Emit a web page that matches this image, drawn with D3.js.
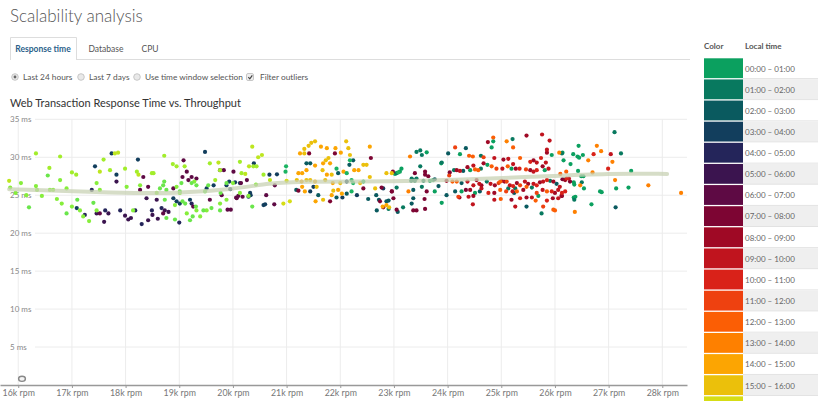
<!DOCTYPE html>
<html>
<head>
<meta charset="utf-8">
<script src="https://cdnjs.cloudflare.com/ajax/libs/d3/7.8.5/d3.min.js"></script>
<style>
  html, body { margin: 0; padding: 0; background: #fff; overflow: hidden; }
  svg { display: block; font-family: Lato, "Open Sans", "DejaVu Sans", sans-serif; }
</style>
</head>
<body>
<div id="chart"></div>
<script>
// ---- data ----
const hourLabels = d3.range(24).map(h =>
  `${String(h).padStart(2, "0")}:00 – ${String((h + 1) % 24 === 0 ? 24 : h + 1).padStart(2, "0")}:00`);
const hourColors = [
  "#0ba05f", "#08795f", "#0a5a5f", "#123e5d", "#24255a", "#3b144f",
  "#5e0a44", "#7d0533", "#9f0925", "#c0141e", "#d92219", "#ee4110",
  "#fb5e05", "#fe8000", "#fca502", "#ebc00b", "#d6dd15", "#bde61f",
  "#a2ed2b", "#86ee3b", "#6ae64b", "#4ed958", "#32c862", "#1bb462"
];
const xTicks = [16, 17, 18, 19, 20, 21, 22, 23, 24, 25, 26, 27, 28]; // k rpm
const yTicks = [5, 10, 15, 20, 25, 30, 35];                          // ms

const tabNames = ["Response time", "Database", "CPU"];
const radioOptions = ["Last 24 hours", "Last 7 days", "Use time window selection"];

// smoothed trend (k rpm, ms)
const trendRpm = [15.83, 17.9, 18.92, 20.0, 20.7, 21.25, 23.1, 24.05, 25.54, 27.08, 28.09];
const trendMs  = [25.8, 25.3, 25.2, 25.8, 26.6, 26.8, 26.8, 27.0, 27.4, 27.9, 27.8];

// points per local hour: [k rpm, ms]
const pts00 = [[24.85,32.1],[24.82,31.3],[23.61,30.65],[24.23,30.4],[25.94,30.3],[26.14,30.6],[26.34,30.4],[26.42,30.1],[26.45,29.95],[26.52,30.3],[26.44,31.5],[26.16,29.6],[26.29,29.1],[26.43,28.2],[27.42,28.2],[26.49,27.5],[26.53,27.5],[26.36,26.4],[26.35,26.7],[27.14,25.9],[27.37,26.0],[26.54,25.9],[26.84,25.5],[26.87,25.4],[26.38,24.8],[26.35,24.7],[26.68,23.8],[25.69,24.9],[24.51,25.3],[24.26,25.5],[23.76,25.5],[23.89,24.0],[23.67,26.9],[23.73,27.0],[23.88,29.2],[24.42,28.3],[24.74,29.0],[25.19,28.5],[25.81,28.3],[26.19,27.1],[23.14,28.5],[23.11,28.1],[23.02,27.8]];
const pts01 = [[27.11,33.3],[25.21,32.4],[23.42,30.7],[23.49,30.9],[23.52,30.3],[24.62,30.2],[27.23,30.5],[23.89,29.3],[23.49,28.8],[23.05,27.9],[24.62,28.5],[24.12,28.3],[23.42,27.2],[23.33,27.2],[23.36,27.0],[23.32,26.9],[23.39,26.9],[23.55,26.9],[24.73,26.8],[25.91,26.9],[26.5,26.7],[23.05,26.0],[23.52,26.1],[25.13,25.9],[25.26,25.9],[25.57,26.0],[26.36,24.4],[22.9,23.2],[23.17,23.4],[25.75,22.6],[26.13,30.5]];
const pts02 = [[24.34,31.2],[24.01,30.5],[24.29,28.2],[23.76,27.1],[24.26,26.6],[26.03,26.5],[23.36,25.7],[23.83,26.2],[23.98,25.0],[24.14,25.5],[24.6,25.5],[25.24,25.3],[27.13,23.4],[22.86,24.2],[23.07,22.8],[23.33,23.9],[23.36,24.6],[25.47,23.5],[21.37,29.2],[21.44,29.2],[21.96,27.9],[22.17,29.0],[22.24,29.6],[21.59,25.0],[21.93,24.7],[22.12,25.2],[22.52,24.5],[22.67,25.0],[22.72,24.4],[22.9,24.3],[22.68,23.0],[21.18,25.7]];
const pts03 = [[17.74,30.5],[17.43,28.8],[17.09,23.3],[17.83,27.7],[18.23,29.7],[18.89,24.6],[18.95,24.2],[19.01,23.9],[19.2,24.4],[19.48,30.7],[19.51,25.9],[19.64,26.3],[19.88,26.3],[20.13,26.6],[20.32,25.3],[20.33,25.0],[20.57,23.7],[20.68,27.7],[22.12,26.8],[21.44,25.5],[21.5,26.1],[22.04,24.7],[22.31,25.0],[22.8,25.9],[20.6,23.8],[20.29,24.8],[19.95,25.8],[20.04,26.7],[19.93,26.8],[20.82,27.75],[20.39,29.2]];
const pts04 = [[17.24,22.4],[17.62,23.0],[17.9,23.0],[18.18,23.0],[18.49,23.0],[18.67,23.3],[19.23,23.9],[17.37,25.7],[18.3,21.2],[19.0,21.4]];
const pts05 = [[17.46,22.6],[17.68,22.6],[17.83,26.8],[17.99,22.3],[18.05,21.8],[18.39,24.6],[18.42,21.7],[18.58,24.4],[18.73,23.0],[17.6,21.5],[18.1,22.0],[18.6,21.9],[18.8,22.8],[18.5,22.4]];
const pts06 = [[17.52,22.6],[18.33,27.4],[18.27,25.7],[18.42,26.1],[18.7,22.6],[18.89,25.9],[19.08,29.6],[19.06,27.4],[19.14,28.1],[19.17,27.0],[19.23,27.4],[19.26,23.5],[19.32,27.2],[19.57,24.4],[19.76,28.3],[19.79,25.0],[20.01,28.1],[20.07,24.6],[20.26,27.0],[20.62,25.0],[20.78,26.3],[19.83,28.3],[20.15,26.6],[19.9,23.1],[19.96,23.1],[20.06,24.7],[20.1,24.9],[20.18,24.8],[20.77,23.8]];
const pts07 = [[21.9,30.5],[21.42,30.5],[22.57,29.9],[21.81,24.2],[22.43,25.9],[22.96,25.5],[23.05,23.1],[21.22,25.6],[24.04,28.0],[23.58,28.1],[22.98,28.1],[23.39,27.9],[23.58,27.7],[23.64,27.5],[26.14,27.1],[26.28,26.8],[22.77,26.0],[22.96,25.5],[23.61,25.5],[24.34,25.7],[26.13,24.9],[22.74,24.2],[22.99,24.6],[22.8,23.4],[23.36,23.0],[23.42,23.0],[23.57,24.5],[23.58,23.2]];
const pts08 = [[25.47,32.85],[24.75,32.0],[25.85,30.6],[25.04,29.7],[25.6,29.6],[25.77,28.8],[25.54,28.3],[25.27,28.5],[24.67,29.2],[24.37,28.7],[24.17,28.3],[23.98,26.9],[24.54,27.0],[24.63,26.3],[24.88,26.3],[25.06,26.8],[25.29,26.6],[25.5,26.5],[25.72,26.7],[25.97,26.8],[26.19,27.0],[26.12,24.9],[24.42,25.7],[24.87,25.3],[25.41,25.7],[26.0,25.3],[24.22,24.7],[24.48,24.9],[25.19,24.4],[25.47,24.7],[25.96,24.6]];
const pts09 = [[25.76,33.0],[25.9,32.2],[25.85,31.0],[27.04,30.4],[24.87,29.9],[25.13,29.8],[25.22,29.1],[25.66,29.3],[25.83,29.3],[25.88,28.5],[25.6,28.1],[25.02,28.5],[24.48,28.9],[24.23,28.2],[24.37,26.8],[24.48,26.3],[24.59,26.5],[24.8,26.5],[25.01,26.9],[25.16,26.3],[25.44,26.8],[25.6,26.5],[25.78,26.8],[26.09,26.1],[26.26,27.2],[24.39,24.8],[24.63,25.9],[25.21,25.5],[25.77,25.7],[26.06,25.7],[24.47,23.8],[24.87,24.4],[25.26,23.5],[25.57,24.7],[26.06,24.6]];
const pts10 = [[26.72,30.4],[25.54,29.4],[25.74,29.9],[25.66,28.3],[25.34,28.5],[26.99,28.5],[25.22,26.2],[25.66,26.3],[25.85,27.0],[26.22,27.2],[26.19,25.5],[24.76,25.3],[25.94,25.5],[26.13,25.3],[25.35,24.6],[25.85,24.3]];
const pts11 = [[24.14,31.3],[24.67,30.0],[25.46,28.4],[24.91,28.5],[24.03,27.6],[24.95,26.6],[25.1,26.8],[25.35,26.3],[24.2,24.8],[25.09,25.5],[25.66,25.3],[25.78,23.5]];
const pts12 = [[24.85,32.6],[25.22,31.3],[24.4,30.2],[24.47,30.1],[25.35,29.9],[25.12,28.8],[24.82,28.8],[24.57,28.3],[24.51,28.4],[24.09,26.8],[24.17,26.8],[24.98,26.8],[24.98,25.7],[25.29,25.5],[25.47,26.1],[25.85,25.5],[24.99,24.5],[25.64,24.3],[25.97,23.1],[26.0,23.0],[26.21,28.1],[26.1,27.8]];
const pts13 = [[25.1,32.1],[26.78,31.5],[26.86,30.8],[26.08,30.6],[26.62,29.6],[27.07,29.4],[23.3,30.1],[26.47,26.3],[27.12,27.0],[27.74,26.3],[28.35,25.3],[23.27,25.5],[26.37,22.8],[26.7,28.0]];
const pts14 = [[21.22,27.9],[21.29,27.9],[21.25,30.5],[21.64,31.4],[21.75,31.2],[21.91,31.2],[22.01,30.6],[21.53,28.9],[21.37,28.3],[21.68,29.2],[21.81,29.2],[22.06,28.1],[22.26,28.3],[22.34,28.3],[22.55,31.4],[21.86,26.6],[21.75,27.7],[21.53,26.8],[21.28,26.8],[21.29,26.1],[21.34,25.5],[21.54,24.2],[21.84,25.0],[21.96,25.7],[22.03,25.2],[22.86,23.7],[22.79,23.5]];
const pts15 = [[21.33,31.1],[21.33,30.5],[21.41,31.5],[21.46,31.9],[21.53,32.1],[22.11,32.1],[22.15,31.2],[22.18,30.3],[21.73,29.6],[21.78,29.9],[21.67,28.3],[22.43,29.0],[22.49,29.0],[22.55,27.4],[22.37,26.6],[22.0,26.6],[21.84,27.7],[21.72,27.0],[21.44,27.0],[21.37,27.0],[21.19,27.0],[21.56,26.1],[21.68,24.4],[21.87,25.6],[22.65,25.9],[22.91,23.4],[22.96,27.9],[22.86,27.9]];
const pts16 = [[21.0,26.9],[21.06,24.2],[20.94,23.9]];
const pts17 = [[15.83,26.9],[17.8,30.5],[17.86,30.6],[17.52,28.1],[18.24,27.7],[20.36,31.4],[20.54,30.3],[20.47,30.0],[20.23,27.8],[20.69,27.0],[20.3,28.8],[19.73,29.3]];
const pts18 = [[16.33,30.5],[16.58,28.6],[16.78,30.1],[17.0,28.0],[17.08,27.7],[17.59,29.7],[17.71,28.3],[17.99,28.5],[18.21,28.1],[18.52,27.9],[18.72,30.2],[18.88,29.1],[19.1,28.8],[19.57,29.2],[19.76,28.3],[20.13,29.4],[20.16,27.9],[20.38,28.8],[20.57,27.7],[20.44,28.8],[18.95,28.8],[18.49,27.9],[19.67,27.0]];
const pts19 = [[15.85,26.0],[15.95,25.3],[16.05,26.6],[16.15,25.0],[16.33,26.2],[16.35,25.7],[16.44,24.9],[16.59,25.7],[16.65,25.7],[16.72,24.5],[16.81,23.9],[16.78,27.0],[16.9,25.9],[17.0,23.5],[17.15,23.0],[17.21,22.2],[17.32,21.6],[17.46,23.0],[17.52,25.7],[17.46,26.6],[18.02,26.1],[18.14,23.0],[18.27,26.3],[18.58,25.3],[18.92,23.7],[18.95,26.1],[19.01,25.3],[19.14,22.6],[19.28,26.8],[19.32,23.0],[19.39,22.2],[19.51,23.0],[19.88,24.4],[20.0,26.6],[20.29,24.9],[20.13,25.3],[19.76,23.9],[20.43,26.4]];
const pts20 = [[18.72,26.8],[18.7,26.3],[18.64,25.9],[18.73,24.4],[18.76,25.7],[18.76,22.0],[18.92,21.8],[19.06,24.2],[19.11,23.9],[19.01,25.5],[19.04,26.6],[19.2,21.7],[19.25,22.2],[19.31,23.5],[19.45,23.0],[19.6,23.3],[19.76,23.0],[19.54,26.3],[19.48,25.5],[19.32,26.3],[19.23,26.6],[19.77,25.3],[19.88,26.6],[20.36,23.5],[16.9,22.6],[17.1,24.4],[17.4,24.0],[16.55,27.6],[16.2,23.4]];
const pts21 = [];
const pts22 = [];
const pts23 = [[20.99,28.8],[20.98,28.1],[21.93,28.5],[22.12,27.9],[22.18,29.6],[22.43,26.8],[22.24,26.6],[22.21,27.0],[22.21,25.5],[23.08,28.0]];

const hourSeries = [pts00, pts01, pts02, pts03, pts04, pts05, pts06, pts07, pts08, pts09, pts10, pts11,
                    pts12, pts13, pts14, pts15, pts16, pts17, pts18, pts19, pts20, pts21, pts22, pts23];

// ---- drawing ----
const W = 818, H = 401;
const svg = d3.select("#chart").append("svg")
  .attr("width", W)
  .attr("height", H);

// page title
svg.append("text")
  .attr("x", 10)
  .attr("y", 22)
  .attr("font-size", 17)
  .attr("font-weight", 300)
  .attr("fill", "#555")
  .text("Scalability analysis");

// tabs
svg.append("line")
  .attr("x1", 76).attr("x2", 690)
  .attr("y1", 59.5).attr("y2", 59.5)
  .attr("stroke", "#ddd");
svg.append("path")
  .attr("d", "M10.5,60V37.5H76.5V60")
  .attr("fill", "none")
  .attr("stroke", "#ddd");

const tabX = [43, 106, 150];
svg.selectAll(".tab")
  .data(tabNames)
  .enter()
  .append("text")
  .attr("class", "tab")
  .attr("x", (d, i) => tabX[i])
  .attr("y", 52)
  .attr("text-anchor", "middle")
  .attr("font-size", 8.5)
  .attr("font-weight", (d, i) => i === 0 ? 700 : 400)
  .attr("fill", (d, i) => i === 0 ? "#2b5f8a" : "#555")
  .text(d => d);

// radio row
const radioX = [15, 81, 137];
radioOptions.forEach((label, i) => {
  svg.append("circle")
    .attr("cx", radioX[i]).attr("cy", 77)
    .attr("r", 3.3)
    .attr("fill", "#e9e9e9")
    .attr("stroke", "#bbb")
    .attr("stroke-width", 0.8);
  if (i === 0) {
    svg.append("circle")
      .attr("cx", radioX[i]).attr("cy", 77)
      .attr("r", 1.4)
      .attr("fill", "#666");
  }
  svg.append("text")
    .attr("x", radioX[i] + 8)
    .attr("y", 80)
    .attr("font-size", 8.3)
    .attr("fill", "#555")
    .text(label);
});
svg.append("rect")
  .attr("x", 246.5).attr("y", 73.5)
  .attr("width", 7).attr("height", 7)
  .attr("rx", 1.5)
  .attr("fill", "#eee")
  .attr("stroke", "#bbb")
  .attr("stroke-width", 0.8);
svg.append("path")
  .attr("d", "M248.3,77.2L249.8,78.8L252.3,75.4")
  .attr("fill", "none")
  .attr("stroke", "#444")
  .attr("stroke-width", 1.2);
svg.append("text")
  .attr("x", 260)
  .attr("y", 80)
  .attr("font-size", 8.3)
  .attr("fill", "#555")
  .text("Filter outliers");

// chart title
svg.append("text")
  .attr("x", 10)
  .attr("y", 107)
  .attr("font-size", 11)
  .attr("fill", "#333")
  .text("Web Transaction Response Time vs. Throughput");

// scales
const x = d3.scaleLinear().domain([15.66, 28.46]).range([0, 687]);
const y = d3.scaleLinear().domain([0, 35]).range([385, 119.3]);

const g = svg.append("g");

// grid
g.selectAll(".hgrid")
  .data(yTicks)
  .enter()
  .append("line")
  .attr("x1", 35).attr("x2", 687)
  .attr("y1", d => y(d)).attr("y2", d => y(d))
  .attr("stroke", "#ececec");

g.selectAll(".vgrid")
  .data(xTicks)
  .enter()
  .append("line")
  .attr("x1", d => x(d)).attr("x2", d => x(d))
  .attr("y1", y(35)).attr("y2", y(0))
  .attr("stroke", "#ececec");

// y labels
g.selectAll(".ylab")
  .data(yTicks)
  .enter()
  .append("text")
  .attr("x", 10)
  .attr("y", d => y(d) + 3)
  .attr("font-size", 8)
  .attr("fill", "#888")
  .text(d => d + " ms");

// x axis
const xAxis = g.append("g")
  .attr("transform", `translate(0,${y(0)})`)
  .call(d3.axisBottom(x).tickValues(xTicks).tickSize(3).tickSizeOuter(0).tickFormat(d => d + "k rpm"));
xAxis.select(".domain").attr("stroke", "#999").attr("stroke-width", 1.5);
xAxis.selectAll(".tick line").attr("stroke", "#999");
xAxis.selectAll(".tick text")
  .attr("fill", "#777")
  .attr("font-size", 8.8)
  .attr("font-family", "Lato, 'Open Sans', sans-serif")
  .attr("dy", "0.55em");

// points
const points = hourSeries.flatMap((arr, h) => arr.map(p => ({ rpm: p[0], ms: p[1], hour: h })));
g.selectAll(".dot")
  .data(points)
  .enter()
  .append("circle")
  .attr("class", "dot")
  .attr("cx", d => x(d.rpm))
  .attr("cy", d => y(d.ms))
  .attr("r", 2.1)
  .attr("fill", d => hourColors[d.hour]);

// trend line
const trend = trendRpm.map((r, i) => [r, trendMs[i]]);
g.append("path")
  .datum(trend)
  .attr("fill", "none")
  .attr("stroke", "#c8d1b4")
  .attr("stroke-width", 4)
  .attr("stroke-opacity", 0.75)
  .attr("stroke-linecap", "round")
  .attr("d", d3.line().x(d => x(d[0])).y(d => y(d[1])).curve(d3.curveBasis));

// small zoom-reset icon
g.append("ellipse")
  .attr("cx", 22).attr("cy", 378.8)
  .attr("rx", 3.4).attr("ry", 2.6)
  .attr("fill", "#f4f4f4")
  .attr("stroke", "#888")
  .attr("stroke-width", 1.4);

// legend (rows run past the bottom of the window, as in the page)
const lg = svg.append("g");
const rowTop = 58, rowH = 21.13;
lg.append("text")
  .attr("x", 704).attr("y", 49)
  .attr("font-size", 8).attr("font-weight", 700).attr("fill", "#555")
  .text("Color");
lg.append("text")
  .attr("x", 745).attr("y", 49)
  .attr("font-size", 8).attr("font-weight", 700).attr("fill", "#555")
  .text("Local time");

const visibleRows = hourLabels.filter((d, i) => rowTop + i * rowH < H);
const rows = lg.selectAll(".row")
  .data(visibleRows)
  .enter()
  .append("g")
  .attr("transform", (d, i) => `translate(0,${rowTop + i * rowH})`);

rows.append("rect")
  .attr("x", 743).attr("y", 0)
  .attr("width", 75).attr("height", rowH)
  .attr("fill", (d, i) => i % 2 ? "#efefef" : "#fff");
rows.append("line")
  .attr("x1", 743).attr("x2", 818)
  .attr("y1", rowH - 0.5).attr("y2", rowH - 0.5)
  .attr("stroke", "#e2e2e2");
rows.append("rect")
  .attr("x", 704).attr("y", 0.3)
  .attr("width", 39).attr("height", rowH - 1.3)
  .attr("fill", (d, i) => hourColors[i]);
rows.filter((d, i) => rowTop + i * rowH + rowH / 2 + 3 < H)
  .append("text")
  .attr("x", 745).attr("y", rowH / 2 + 3)
  .attr("font-size", 8).attr("fill", "#666")
  .text(d => d);
</script>
</body>
</html>
